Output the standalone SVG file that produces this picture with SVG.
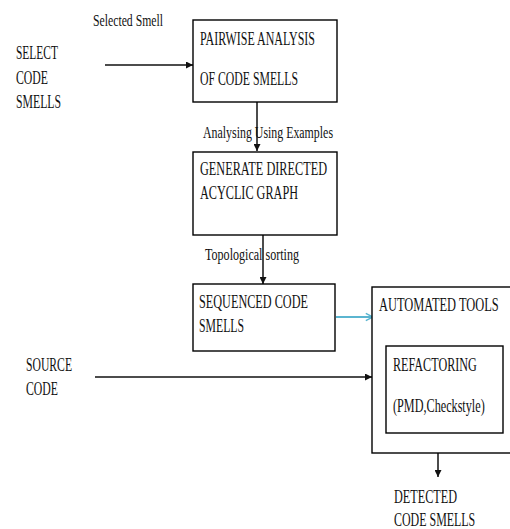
<svg xmlns="http://www.w3.org/2000/svg" width="510" height="529" viewBox="0 0 510 529">
<defs>
<style>
.box{fill:#fff;stroke:#000;stroke-width:1.4}
.t{font-family:"Liberation Serif","Times New Roman",serif;font-size:18px;fill:#111}
.s{font-family:"Liberation Serif","Times New Roman",serif;font-size:16px;fill:#111}
.c{stroke:#111;stroke-width:1.5;fill:none}
.b{stroke:#5bb5d0;stroke-width:1.8;fill:none}
</style>
<marker id="ah" viewBox="0 0 10 10" refX="10" refY="5" markerWidth="7" markerHeight="7" markerUnits="userSpaceOnUse" orient="auto"><path d="M0,0 L10,5 L0,10 z" fill="#111"/></marker>
<marker id="bh" viewBox="0 0 10 10" refX="9" refY="5" markerWidth="9" markerHeight="10" markerUnits="userSpaceOnUse" orient="auto"><path d="M1,1 L9,5 L1,9" fill="none" stroke="#5bb5d0" stroke-width="1.6"/></marker>
</defs>
<rect width="510" height="529" fill="#fff"/>

<g id="connectors">
<line class="c" x1="105" y1="65" x2="193" y2="65" marker-end="url(#ah)"/>
<line class="c" x1="257" y1="102" x2="257" y2="151" marker-end="url(#ah)"/>
<line class="c" x1="263" y1="235" x2="263" y2="284" marker-end="url(#ah)"/>
<line class="b" x1="336" y1="317" x2="373" y2="317" marker-end="url(#bh)"/>
<line class="c" x1="95" y1="377" x2="372" y2="377" marker-end="url(#ah)"/>
<line class="c" x1="438" y1="453" x2="438" y2="477" marker-end="url(#ah)"/>
<text class="s" x="93" y="26" textLength="70" lengthAdjust="spacingAndGlyphs">Selected  Smell</text>
<text class="s" x="203" y="138" textLength="130" lengthAdjust="spacingAndGlyphs">Analysing Using Examples</text>
<text class="s" x="205" y="260" textLength="94" lengthAdjust="spacingAndGlyphs">Topological  sorting</text>
</g>

<g id="select">
<text class="t" x="16" y="59" textLength="42" lengthAdjust="spacingAndGlyphs">SELECT</text>
<text class="t" x="16" y="84" textLength="32" lengthAdjust="spacingAndGlyphs">CODE</text>
<text class="t" x="16" y="108" textLength="45" lengthAdjust="spacingAndGlyphs">SMELLS</text>
</g>

<g id="pairwise">
<rect class="box" x="193" y="20" width="144" height="82"/>
<text class="t" x="200" y="45" textLength="115" lengthAdjust="spacingAndGlyphs">PAIRWISE  ANALYSIS</text>
<text class="t" x="200" y="85" textLength="98" lengthAdjust="spacingAndGlyphs">OF CODE SMELLS</text>
</g>

<g id="dag">
<rect class="box" x="193" y="152" width="144" height="83"/>
<text class="t" x="200" y="175" textLength="127" lengthAdjust="spacingAndGlyphs">GENERATE DIRECTED</text>
<text class="t" x="200" y="199" textLength="98" lengthAdjust="spacingAndGlyphs">ACYCLIC  GRAPH</text>
</g>

<g id="sequenced">
<rect class="box" x="193" y="284" width="142" height="67"/>
<text class="t" x="199" y="308" textLength="109" lengthAdjust="spacingAndGlyphs">SEQUENCED  CODE</text>
<text class="t" x="199" y="332" textLength="45" lengthAdjust="spacingAndGlyphs">SMELLS</text>
</g>

<g id="source">
<text class="t" x="26" y="371" textLength="46" lengthAdjust="spacingAndGlyphs">SOURCE</text>
<text class="t" x="26" y="395" textLength="32" lengthAdjust="spacingAndGlyphs">CODE</text>
</g>

<g id="automated">
<rect class="box" x="372" y="287" width="145" height="166"/>
<text class="t" transform="translate(379,311) scale(0.63,1)" x="0" y="0" textLength="190" lengthAdjust="spacingAndGlyphs">AUTOMATED TOOLS</text>
</g>

<g id="refactoring">
<rect class="box" x="386" y="346" width="117" height="87"/>
<text class="t" transform="translate(393,371) scale(0.63,1)" x="0" y="0" textLength="133" lengthAdjust="spacingAndGlyphs">REFACTORING</text>
<text class="t" transform="translate(393,412) scale(0.7,1)" x="0" y="0" textLength="131" lengthAdjust="spacingAndGlyphs">(PMD,Checkstyle)</text>
</g>

<g id="detected">
<text class="t" transform="translate(394,503) scale(0.63,1)" x="0" y="0" textLength="100" lengthAdjust="spacingAndGlyphs">DETECTED</text>
<text class="t" transform="translate(394,526) scale(0.63,1)" x="0" y="0" textLength="129" lengthAdjust="spacingAndGlyphs">CODE SMELLS</text>
</g>
</svg>
